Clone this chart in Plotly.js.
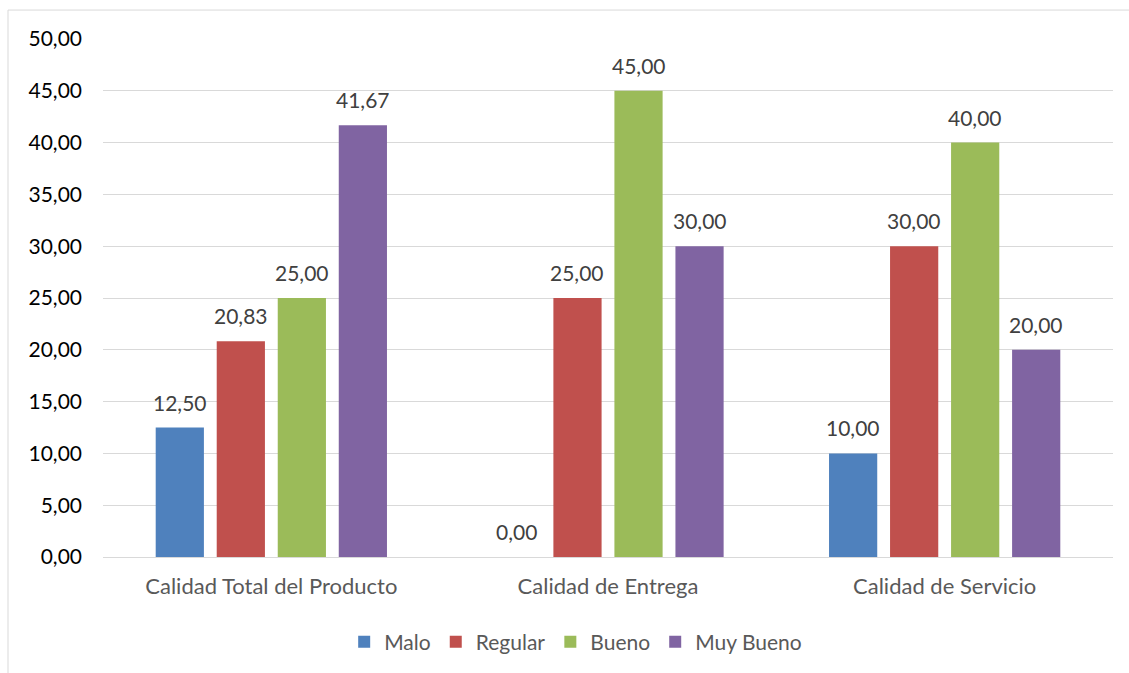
<!DOCTYPE html>
<html>
<head>
<meta charset="utf-8">
<script src="https://cdn.plot.ly/plotly-3.0.1.min.js"></script>
<style>
html,body{margin:0;padding:0;background:#fff;}
#chart{width:1129px;height:673px;}
</style>
</head>
<body>
<div id="chart"></div>
<script>
var categories = ["Calidad Total del Producto", "Calidad de Entrega", "Calidad de Servicio"];
var seriesNames = ["Malo", "Regular", "Bueno", "Muy Bueno"];
var malo = [12.50, 0.00, 10.00];
var regular = [20.83, 25.00, 30.00];
var bueno = [25.00, 45.00, 40.00];
var muyBueno = [41.67, 30.00, 20.00];
var tickValues = [0, 5, 10, 15, 20, 25, 30, 35, 40, 45, 50];

var colors = ["#4F81BD", "#C0504D", "#9BBB59", "#8064A2"];
var values = [malo, regular, bueno, muyBueno];
var FONT = "Lato, 'Open Sans', sans-serif";

var W = 1129, H = 673;
var margin = {l: 103, r: 16, t: 39, b: 115};
var bargap = 0.275;
var plotW = W - margin.l - margin.r;
var slot = plotW / categories.length * (1 - bargap) / seriesNames.length;

var traces = seriesNames.map(function(name, i){
  return {
    type: "bar",
    name: name,
    x: categories,
    y: values[i],
    marker: {color: colors[i]},
    hoverinfo: "none"
  };
});

var annotations = [];
seriesNames.forEach(function(name, i){
  var xshift = (i - (seriesNames.length - 1) / 2) * slot;
  categories.forEach(function(cat, j){
    annotations.push({
      x: cat, y: values[i][j],
      xref: "x", yref: "y",
      text: values[i][j].toFixed(2).replace(".", ","),
      showarrow: false,
      xanchor: "center", yanchor: "bottom",
      xshift: xshift, yshift: 11,
      font: {family: FONT, size: 21, color: "#404040"}
    });
  });
});

var bx0 = (8 - margin.l) / plotW;
var by1 = (558 - 10) / (H - margin.t - margin.b);

var layout = {
  width: W,
  height: H,
  margin: margin,
  paper_bgcolor: "#fff",
  plot_bgcolor: "#fff",
  separators: ",.",
  barmode: "group",
  bargap: bargap,
  bargroupgap: 0.21,
  showlegend: true,
  legend: {
    orientation: "h",
    x: 0.468, xanchor: "center",
    y: -0.162, yanchor: "middle",
    font: {family: FONT, size: 21, color: "#595959"},
    traceorder: "normal"
  },
  xaxis: {
    type: "category",
    showgrid: false,
    showline: true,
    linecolor: "#D9D9D9",
    linewidth: 1,
    ticks: "",
    tickfont: {family: FONT, size: 22, color: "#595959"},
    ticklabelstandoff: 10
  },
  yaxis: {
    range: [0, 50],
    tickvals: tickValues,
    tickformat: ".2f",
    showgrid: true,
    gridcolor: "#D9D9D9",
    gridwidth: 1,
    zeroline: false,
    showline: false,
    ticks: "",
    tickfont: {family: FONT, size: 21, color: "#000000"},
    ticklabelstandoff: 20
  },
  annotations: annotations,
  shapes: [
    {type: "line", xref: "paper", yref: "paper", x0: bx0, x1: 1.1, y0: by1, y1: by1,
     line: {color: "#D9D9D9", width: 1}, layer: "below"},
    {type: "line", xref: "paper", yref: "paper", x0: bx0, x1: bx0, y0: -0.5, y1: by1,
     line: {color: "#D9D9D9", width: 1}, layer: "below"}
  ]
};

Plotly.newPlot("chart", traces, layout, {displayModeBar: false, staticPlot: true});
</script>
</body>
</html>
